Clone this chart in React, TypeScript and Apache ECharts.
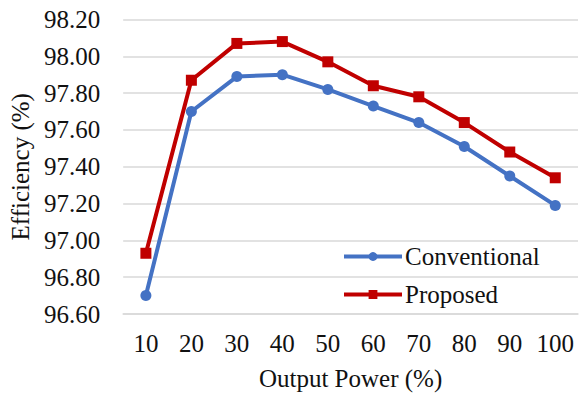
import React, { useEffect, useRef } from "react";
import * as echarts from "echarts";

const categories = ["10", "20", "30", "40", "50", "60", "70", "80", "90", "100"];
const conventional = [96.7, 97.7, 97.89, 97.9, 97.82, 97.73, 97.64, 97.51, 97.35, 97.19];
const proposed = [96.93, 97.87, 98.07, 98.08, 97.97, 97.84, 97.78, 97.64, 97.48, 97.34];
const yMin = 96.6;
const yMax = 98.2;
const yStep = 0.2;

const FONT = "Liberation Serif";
const FS = 25;
const TXT = "#111";

export default function App() {
  const ref = useRef<HTMLDivElement>(null);
  useEffect(() => {
    if (!ref.current) return;
    const chart = echarts.init(ref.current, undefined, { renderer: "svg" });
    chart.setOption({
      animation: false,
      backgroundColor: "#ffffff",
      textStyle: { fontFamily: FONT },
      grid: { left: 122, right: 1, top: 19.5, bottom: 80 },
      legend: {
        orient: "vertical",
        left: 337,
        top: 239,
        itemWidth: 58,
        itemHeight: 11,
        itemGap: 13,
        textStyle: { fontFamily: FONT, fontSize: FS, color: TXT, lineHeight: 25, padding: [0, 0, 0, -2] },
        data: [
          { name: "Conventional", lineStyle: { width: 4 } },
          { name: "Proposed", lineStyle: { width: 4 } },
        ],
      },
      xAxis: {
        type: "category",
        data: categories,
        boundaryGap: true,
        name: "Output Power (%)",
        nameLocation: "middle",
        nameGap: 52,
        nameTextStyle: { fontFamily: FONT, fontSize: FS, color: TXT, lineHeight: 25 },
        axisLine: { show: true, lineStyle: { color: "#d9d9d9", width: 1.5 } },
        axisTick: { show: false },
        axisLabel: { fontFamily: FONT, fontSize: FS, color: TXT, margin: 17, lineHeight: 25, interval: 0, hideOverlap: false },
      },
      yAxis: {
        type: "value",
        min: yMin,
        max: yMax,
        interval: yStep,
        name: "Efficiency (%)",
        nameLocation: "middle",
        nameGap: 89,
        nameTextStyle: { fontFamily: FONT, fontSize: FS, color: TXT, lineHeight: 25 },
        axisLine: { show: false },
        axisTick: { show: false },
        axisLabel: {
          fontFamily: FONT,
          fontSize: FS,
          color: TXT,
          margin: 23,
          formatter: (v: number) => v.toFixed(2),
        },
        splitLine: { show: true, lineStyle: { color: "#d9d9d9", width: 1.5 } },
      },
      series: [
        {
          name: "Conventional",
          type: "line",
          data: conventional,
          symbol: "circle",
          symbolSize: 11,
          lineStyle: { color: "#4472C4", width: 4 },
          itemStyle: { color: "#4472C4" },
        },
        {
          name: "Proposed",
          type: "line",
          data: proposed,
          symbol: "rect",
          symbolSize: 11,
          lineStyle: { color: "#C00000", width: 4 },
          itemStyle: { color: "#C00000" },
        },
      ],
    });
    return () => chart.dispose();
  }, []);
  return (
    <div
      ref={ref}
      style={{ position: "absolute", left: 0, top: 0, width: 579, height: 396 }}
    />
  );
}
